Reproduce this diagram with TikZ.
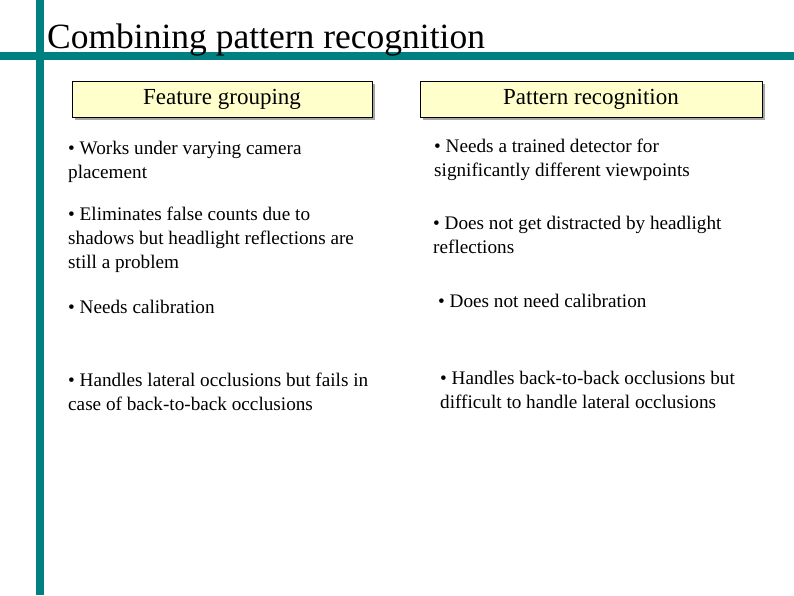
\documentclass[tikz,border=0pt]{standalone}
\usepackage{fontspec}
\setmainfont{Liberation Serif}
\usetikzlibrary{positioning}
\definecolor{teal}{RGB}{0,128,128}
\definecolor{boxyellow}{RGB}{255,255,204}
\tikzset{
  header/.style={draw=black, fill=boxyellow, minimum height=36pt, font=\fontsize{23}{26}\selectfont},
  item/.style={anchor=west, align=left, font=\fontsize{19.2}{24}\selectfont, inner sep=0pt}
}
\begin{document}
\begin{tikzpicture}[x=1pt, y=-1pt]
\useasboundingbox (0,0) rectangle (794,595);

% Frame lines and title
\fill[teal] (36,0) rectangle (44,595);
\fill[teal] (0,52) rectangle (794,60);
\node (title) [anchor=base west, inner sep=0pt, font=\fontsize{35.5}{40}\selectfont] at (47,48) {Combining pattern recognition};

% Column headers
\fill[gray!70] (75,84) rectangle (375,120);
\fill[gray!70] (423,84) rectangle (765,120);
\node (feat) [header, minimum width=300pt] at (222,99) {Feature grouping};
\node (patt) [header, minimum width=342pt] at (591,99) {Pattern recognition};

% Feature grouping items
\node (f1) [item] at (68,162) {• Works under varying camera\\placement};
\node (f2) [item] at (68,240) {• Eliminates false counts due to\\shadows but headlight reflections are\\still a problem};
\node (f3) [item] at (68,307) {• Needs calibration};
\node (f4) [item] at (68,392) {• Handles lateral occlusions but fails in\\case of back-to-back occlusions};

% Pattern recognition items
\node (p1) [item] at (434,160) {• Needs a trained detector for\\significantly different viewpoints};
\node (p2) [item] at (433,235) {• Does not get distracted by headlight\\reflections};
\node (p3) [item] at (438,301) {• Does not need calibration};
\node (p4) [item] at (440,390) {• Handles back-to-back occlusions but\\difficult to handle lateral occlusions};
\end{tikzpicture}
\end{document}
